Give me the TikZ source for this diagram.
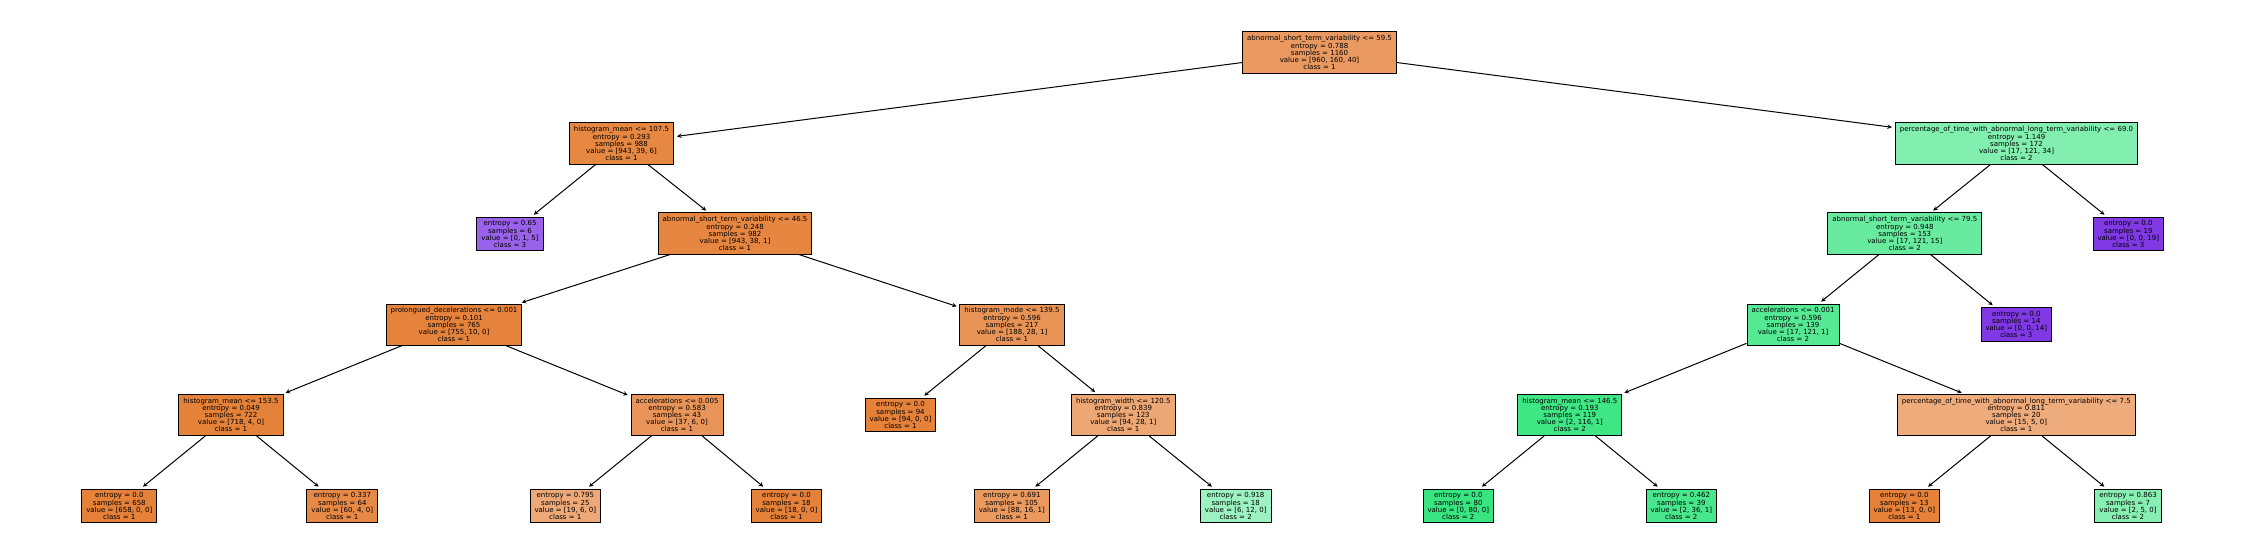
\documentclass[tikz,border=0pt]{standalone}
\usepackage{fontspec}
\setmainfont{DejaVu Sans}
\usepackage{tikz}
\usepackage{xcolor}
\usetikzlibrary{calc,arrows,positioning}

\definecolor{oroot}{RGB}{234,154,97}
\definecolor{oA}{RGB}{230,135,66}
\definecolor{oB}{RGB}{230,134,65}
\definecolor{oC}{RGB}{229,131,60}
\definecolor{oD}{RGB}{233,148,87}
\definecolor{oE}{RGB}{229,130,58}
\definecolor{oF}{RGB}{233,149,89}
\definecolor{oG}{RGB}{231,137,70}
\definecolor{oH}{RGB}{237,169,120}
\definecolor{oI}{RGB}{237,167,117}
\definecolor{oJ}{RGB}{234,153,95}
\definecolor{oK}{RGB}{238,171,123}
\definecolor{opure}{RGB}{229,129,57}
\definecolor{gA}{RGB}{156,242,192}
\definecolor{gB}{RGB}{130,239,176}
\definecolor{gC}{RGB}{104,235,159}
\definecolor{gD}{RGB}{86,233,148}
\definecolor{gE}{RGB}{62,230,132}
\definecolor{gF}{RGB}{73,231,139}
\definecolor{gG}{RGB}{136,239,179}
\definecolor{gpure}{RGB}{57,229,129}
\definecolor{pA}{RGB}{154,97,234}
\definecolor{ppure}{RGB}{129,57,229}

\begin{document}
\begin{tikzpicture}[x=1pt, y=-1pt,
  box/.style={draw, line width=1pt, align=center, inner xsep=4.5pt, inner ysep=3.6pt,
    font={\fontsize{7}{7.1}\selectfont}},
  edge/.style={-stealth, line width=1pt, shorten >=3pt}]
\useasboundingbox (0,0) rectangle (2246,558);
% level 0
\node[box, fill=oroot] (root) at (1319.5,52.5) {abnormal\_short\_term\_variability <= 59.5\\entropy = 0.788\\samples = 1160\\value = [960, 160, 40]\\class = 1};
% level 1
\node[box, fill=oA] (hmean1075) at (621.5,143.5) {histogram\_mean <= 107.5\\entropy = 0.293\\samples = 988\\value = [943, 39, 6]\\class = 1};
\node[box, fill=gB] (ptw690) at (2016.5,143.5) {percentage\_of\_time\_with\_abnormal\_long\_term\_variability <= 69.0\\entropy = 1.149\\samples = 172\\value = [17, 121, 34]\\class = 2};
% level 2
\node[box, fill=pA] (leafsix) at (510,234) {entropy = 0.65\\samples = 6\\value = [0, 1, 5]\\class = 3};
\node[box, fill=oB] (astv465) at (735,233.5) {abnormal\_short\_term\_variability <= 46.5\\entropy = 0.248\\samples = 982\\value = [943, 38, 1]\\class = 1};
\node[box, fill=gC] (astv795) at (1904.8,233.5) {abnormal\_short\_term\_variability <= 79.5\\entropy = 0.948\\samples = 153\\value = [17, 121, 15]\\class = 2};
\node[box, fill=ppure] (leafnineteen) at (2128.3,234) {entropy = 0.0\\samples = 19\\value = [0, 0, 19]\\class = 3};
% level 3
\node[box, fill=oC] (prolong) at (454,324.5) {prolongued\_decelerations <= 0.001\\entropy = 0.101\\samples = 765\\value = [755, 10, 0]\\class = 1};
\node[box, fill=oD] (hmode) at (1012,324.5) {histogram\_mode <= 139.5\\entropy = 0.596\\samples = 217\\value = [188, 28, 1]\\class = 1};
\node[box, fill=gD] (accel001) at (1793,324.5) {accelerations <= 0.001\\entropy = 0.596\\samples = 139\\value = [17, 121, 1]\\class = 2};
\node[box, fill=ppure] (leaffourteen) at (2016.3,324.5) {entropy = 0.0\\samples = 14\\value = [0, 0, 14]\\class = 3};
% level 4
\node[box, fill=oE] (hmean1535) at (231,415) {histogram\_mean <= 153.5\\entropy = 0.049\\samples = 722\\value = [718, 4, 0]\\class = 1};
\node[box, fill=oF] (accel005) at (677,415) {accelerations <= 0.005\\entropy = 0.583\\samples = 43\\value = [37, 6, 0]\\class = 1};
\node[box, fill=opure] (leafninetyfour) at (900.5,415) {entropy = 0.0\\samples = 94\\value = [94, 0, 0]\\class = 1};
\node[box, fill=oI] (hwidth) at (1123.3,415) {histogram\_width <= 120.5\\entropy = 0.839\\samples = 123\\value = [94, 28, 1]\\class = 1};
\node[box, fill=gE] (hmean1465) at (1569.8,415) {histogram\_mean <= 146.5\\entropy = 0.193\\samples = 119\\value = [2, 116, 1]\\class = 2};
\node[box, fill=oK] (ptw75) at (2016.3,415) {percentage\_of\_time\_with\_abnormal\_long\_term\_variability <= 7.5\\entropy = 0.811\\samples = 20\\value = [15, 5, 0]\\class = 1};
% level 5
\node[box, fill=opure] (leaf658) at (119.3,506) {entropy = 0.0\\samples = 658\\value = [658, 0, 0]\\class = 1};
\node[box, fill=oG] (leaf64) at (342.3,506) {entropy = 0.337\\samples = 64\\value = [60, 4, 0]\\class = 1};
\node[box, fill=oH] (leaf25) at (565.3,506) {entropy = 0.795\\samples = 25\\value = [19, 6, 0]\\class = 1};
\node[box, fill=opure] (leaf18a) at (786.5,506) {entropy = 0.0\\samples = 18\\value = [18, 0, 0]\\class = 1};
\node[box, fill=oJ] (leaf105) at (1011.8,506) {entropy = 0.691\\samples = 105\\value = [88, 16, 1]\\class = 1};
\node[box, fill=gA] (leaf18b) at (1235.7,506) {entropy = 0.918\\samples = 18\\value = [6, 12, 0]\\class = 2};
\node[box, fill=gpure] (leaf80) at (1458.3,506) {entropy = 0.0\\samples = 80\\value = [0, 80, 0]\\class = 2};
\node[box, fill=gF] (leaf39) at (1681.3,506) {entropy = 0.462\\samples = 39\\value = [2, 36, 1]\\class = 2};
\node[box, fill=opure] (leaf13) at (1904.3,506) {entropy = 0.0\\samples = 13\\value = [13, 0, 0]\\class = 1};
\node[box, fill=gG] (leaf7) at (2128,506) {entropy = 0.863\\samples = 7\\value = [2, 5, 0]\\class = 2};
% edges
\draw[edge] (root) -- (hmean1075);
\draw[edge] (root) -- (ptw690);
\draw[edge] (hmean1075) -- (leafsix);
\draw[edge] (hmean1075) -- (astv465);
\draw[edge] (ptw690) -- (astv795);
\draw[edge] (ptw690) -- (leafnineteen);
\draw[edge] (astv465) -- (prolong);
\draw[edge] (astv465) -- (hmode);
\draw[edge] (astv795) -- (accel001);
\draw[edge] (astv795) -- (leaffourteen);
\draw[edge] (prolong) -- (hmean1535);
\draw[edge] (prolong) -- (accel005);
\draw[edge] (hmode) -- (leafninetyfour);
\draw[edge] (hmode) -- (hwidth);
\draw[edge] (accel001) -- (hmean1465);
\draw[edge] (accel001) -- (ptw75);
\draw[edge] (hmean1535) -- (leaf658);
\draw[edge] (hmean1535) -- (leaf64);
\draw[edge] (accel005) -- (leaf25);
\draw[edge] (accel005) -- (leaf18a);
\draw[edge] (hwidth) -- (leaf105);
\draw[edge] (hwidth) -- (leaf18b);
\draw[edge] (hmean1465) -- (leaf80);
\draw[edge] (hmean1465) -- (leaf39);
\draw[edge] (ptw75) -- (leaf13);
\draw[edge] (ptw75) -- (leaf7);
\end{tikzpicture}
\end{document}
